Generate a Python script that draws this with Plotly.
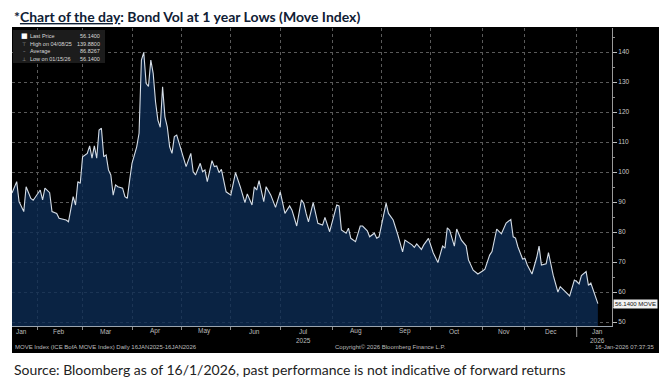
import plotly.graph_objects as go

# ---------------- data ----------------
dates = [
    "2025-01-16", "2025-01-21", "2025-01-22", "2025-01-24", "2025-01-27", "2025-01-29", "2025-01-30",
    "2025-02-04", "2025-02-05", "2025-02-06", "2025-02-10", "2025-02-11", "2025-02-13", "2025-02-14",
    "2025-02-20", "2025-02-21", "2025-02-25", "2025-02-26", "2025-02-27", "2025-02-28",
    "2025-03-03", "2025-03-05", "2025-03-06", "2025-03-07", "2025-03-10", "2025-03-11", "2025-03-12",
    "2025-03-13", "2025-03-14", "2025-03-17", "2025-03-18", "2025-03-19", "2025-03-20", "2025-03-21",
    "2025-03-24", "2025-03-26", "2025-03-27", "2025-03-28", "2025-03-31",
    "2025-04-01", "2025-04-03", "2025-04-04", "2025-04-07", "2025-04-08", "2025-04-09", "2025-04-10",
    "2025-04-11", "2025-04-14", "2025-04-15", "2025-04-16", "2025-04-17", "2025-04-21", "2025-04-22",
    "2025-04-23", "2025-04-24", "2025-04-25", "2025-04-28", "2025-04-29",
    "2025-05-05", "2025-05-07", "2025-05-08", "2025-05-09", "2025-05-13", "2025-05-14", "2025-05-15",
    "2025-05-16", "2025-05-20", "2025-05-21", "2025-05-22", "2025-05-23", "2025-05-27", "2025-05-29",
    "2025-06-02", "2025-06-04", "2025-06-06", "2025-06-10", "2025-06-11", "2025-06-13", "2025-06-16",
    "2025-06-17", "2025-06-18", "2025-06-20", "2025-06-23", "2025-06-25", "2025-06-27",
    "2025-07-01", "2025-07-03", "2025-07-08", "2025-07-09", "2025-07-11", "2025-07-15", "2025-07-16",
    "2025-07-17", "2025-07-18", "2025-07-22", "2025-07-24", "2025-07-28", "2025-07-29", "2025-07-31",
    "2025-08-05", "2025-08-06", "2025-08-07", "2025-08-11", "2025-08-12", "2025-08-13", "2025-08-15",
    "2025-08-19", "2025-08-20", "2025-08-22", "2025-08-25", "2025-08-27", "2025-08-28", "2025-08-29",
    "2025-09-02", "2025-09-04", "2025-09-05", "2025-09-09", "2025-09-11", "2025-09-15", "2025-09-16",
    "2025-09-18", "2025-09-19", "2025-09-22", "2025-09-23", "2025-09-25", "2025-09-26", "2025-09-30",
    "2025-10-02", "2025-10-06", "2025-10-08", "2025-10-09", "2025-10-10", "2025-10-14", "2025-10-16",
    "2025-10-17", "2025-10-21", "2025-10-23", "2025-10-24", "2025-10-28", "2025-10-30",
    "2025-11-03", "2025-11-04", "2025-11-06", "2025-11-07", "2025-11-12", "2025-11-14", "2025-11-18",
    "2025-11-20", "2025-11-21", "2025-11-24", "2025-11-25", "2025-11-26", "2025-11-28",
    "2025-12-01", "2025-12-02", "2025-12-04", "2025-12-08", "2025-12-09", "2025-12-10", "2025-12-12",
    "2025-12-15", "2025-12-17", "2025-12-19", "2025-12-22", "2025-12-24", "2025-12-29", "2025-12-31",
    "2026-01-02", "2026-01-05", "2026-01-06", "2026-01-08", "2026-01-09", "2026-01-12", "2026-01-15",
]
values = [
    93.0, 96.8, 90.1, 86.8, 95.1, 91.2, 90.6,
    94.0, 90.7, 94.6, 93.1, 86.8, 86.2, 84.6,
    84.0, 83.4, 91.8, 89.0, 96.8, 96.2,
    105.1, 106.2, 108.7, 104.6, 108.7, 104.6, 114.0,
    114.6, 105.1, 105.7, 100.7, 99.0, 92.3, 95.7,
    95.1, 94.6, 91.8, 91.2, 97.3,
    102.9, 108.4, 112.9, 137.3, 139.88, 129.6, 128.5,
    137.3, 132.9, 123.4, 117.3, 114.9, 128.4, 118.4,
    115.0, 108.4, 106.2, 111.8, 112.3,
    101.8, 106.2, 100.1, 99.0, 102.9, 100.1, 100.7,
    96.8, 103.8, 101.8, 102.0, 99.8, 100.9, 93.4,
    92.3, 99.8, 95.1, 89.8, 92.7, 89.0, 95.1,
    94.0, 97.1, 90.1, 95.1, 92.3, 88.2,
    93.4, 86.2, 88.7, 87.3, 82.0, 90.7, 89.6,
    86.2, 83.4, 89.8, 82.9, 82.3, 84.9, 80.1,
    89.0, 88.7, 80.7, 79.6, 81.3, 77.9, 76.8,
    82.0, 82.0, 80.4, 78.4, 79.6, 77.9, 78.4,
    81.8, 89.6, 86.2, 84.0, 79.0, 73.4, 77.3,
    76.4, 75.7, 74.9, 76.0, 74.2, 75.7, 77.9,
    73.1, 69.8, 75.3, 74.6, 81.4, 80.6, 75.3,
    81.0, 77.3, 75.4, 70.7, 67.3, 66.0,
    67.0, 67.6, 72.3, 73.5, 81.0, 79.4, 83.0,
    84.2, 78.4, 78.0, 75.1, 72.7, 71.0,
    71.2, 69.0, 66.0, 71.5, 75.3, 69.0, 69.4,
    73.1, 65.6, 60.0, 61.8, 60.1, 58.7, 64.0,
    63.5, 62.7, 65.5, 66.8, 62.2, 63.0, 56.14,
]

holidays = ["2025-01-20", "2025-02-17", "2025-04-18", "2025-05-26", "2025-07-04",
            "2025-09-01", "2025-10-13", "2025-11-11", "2025-11-27", "2025-12-25",
            "2026-01-01", "2026-01-19"]

month_starts = ["2025-02-03", "2025-03-03", "2025-04-01", "2025-05-01", "2025-06-02",
                "2025-07-01", "2025-08-01", "2025-09-02", "2025-10-01", "2025-11-03",
                "2025-12-01", "2026-01-02"]
month_labels = ["Jan", "Feb", "Mar", "Apr", "May", "Jun", "Jul", "Aug", "Sep", "Oct",
                "Nov", "Dec", "Jan"]
month_label_dates = ["2025-01-23", "2025-02-14", "2025-03-17", "2025-04-15", "2025-05-15",
                     "2025-06-16", "2025-07-16", "2025-08-15", "2025-09-16", "2025-10-16",
                     "2025-11-17", "2025-12-16", "2026-01-15"]
year_labels = ["2025", "2026"]
year_label_dates = ["2025-07-16", "2026-01-15"]
y_ticks = [50, 60, 70, 80, 90, 100, 110, 120, 130, 140]

legend_labels = ["Last Price", "High on 04/08/25", "Average", "Low on 01/15/26"]
legend_values = ["56.1400", "139.8800", "86.8267", "56.1400"]
last_price = 56.14

title_text = "<b>*<u>Chart of the day</u>: Bond Vol at 1 year Lows (Move Index)</b>"
source_text = "Source: Bloomberg as of 16/1/2026, past performance is not indicative of forward returns"
footer_left = "MOVE Index (ICE BofA MOVE Index) Daily 16JAN2025-16JAN2026"
footer_mid = "Copyright\u00a9 2026 Bloomberg Finance L.P."
footer_right = "16-Jan-2026 07:37:35"

# ---------------- layout helpers (pixel -> paper) ----------------
L, R, T, B = 12, 50, 28, 59
W, H = 662, 385
PW, PH = W - L - R, H - T - B


def px_x(px):
    return (px - L) / PW


def px_y(py):
    return (H - B - py) / PH


SMALL = "Liberation Sans"

fig = go.Figure()
fig.add_trace(go.Scatter(
    x=dates, y=values, mode="lines",
    line=dict(color="#d5dde6", width=1.1),
    fill="tozeroy", fillcolor="rgba(12,44,84,0.80)",
    hoverinfo="skip", showlegend=False,
))

grid_c = "#5a5a5a"
fig.update_xaxes(
    type="date", range=["2025-01-16", "2026-01-26"],
    rangebreaks=[dict(bounds=["sat", "mon"]), dict(values=holidays)],
    tickmode="array", tickvals=month_starts, ticktext=[""] * len(month_starts),
    ticks="outside", ticklen=3, tickcolor="#8a8a8a",
    showgrid=True, gridcolor=grid_c, griddash="dot", gridwidth=1,
    showline=True, linecolor="#9aa4ae", linewidth=1, zeroline=False,
)
fig.update_yaxes(
    side="right", range=[48.67, 148],
    tickmode="array", tickvals=y_ticks,
    ticks="outside", ticklen=4, tickcolor="#bdbdbd",
    tickfont=dict(size=6.5, color="#c8c8c8", family=SMALL),
    minor=dict(tickmode="linear", tick0=45, dtick=5, ticks="outside", ticklen=2,
               tickcolor="#8a8a8a", showgrid=False),
    showgrid=True, gridcolor=grid_c, griddash="dot", gridwidth=1,
    showline=True, linecolor="#9a9a9a", linewidth=1, zeroline=False,
)

shapes = [
    # black Bloomberg panel
    dict(type="rect", xref="paper", yref="paper", layer="below",
         x0=px_x(12), x1=px_x(659), y0=px_y(353), y1=px_y(27),
         fillcolor="#000000", line=dict(width=0)),
    # legend box
    dict(type="rect", xref="paper", yref="paper", layer="above",
         x0=px_x(13), x1=px_x(105), y0=px_y(63), y1=px_y(30),
         fillcolor="#1c1c1c", line=dict(width=0)),
    # year separator tick
    dict(type="line", xref="x", yref="paper", x0=month_starts[-1], x1=month_starts[-1],
         y0=px_y(328), y1=px_y(337), line=dict(color="#9a9a9a", width=1)),
]

ann = []
ann.append(dict(text=title_text, xref="paper", yref="paper", x=px_x(12), y=px_y(16),
                xanchor="left", yanchor="middle", showarrow=False,
                font=dict(family="Lato", size=14, color="#0f2035")))
ann.append(dict(text=source_text, xref="paper", yref="paper", x=px_x(12), y=px_y(369),
                xanchor="left", yanchor="middle", showarrow=False,
                font=dict(family="Lato", size=14, color="#222222")))

for lab, d in zip(month_labels, month_label_dates):
    ann.append(dict(text=lab, xref="x", yref="paper", x=d, y=px_y(331),
                    xanchor="center", yanchor="middle", showarrow=False,
                    font=dict(family=SMALL, size=6.5, color="#bdbdbd")))
for lab, d in zip(year_labels, year_label_dates):
    ann.append(dict(text=lab, xref="x", yref="paper", x=d, y=px_y(340),
                    xanchor="center", yanchor="middle", showarrow=False,
                    font=dict(family=SMALL, size=6.5, color="#bdbdbd")))

ann.append(dict(text=footer_left, xref="paper", yref="paper", x=px_x(13), y=px_y(347),
                xanchor="left", yanchor="middle", showarrow=False,
                font=dict(family=SMALL, size=6, color="#bdbdbd")))
ann.append(dict(text=footer_mid, xref="paper", yref="paper", x=px_x(333), y=px_y(347),
                xanchor="left", yanchor="middle", showarrow=False,
                font=dict(family=SMALL, size=6, color="#bdbdbd")))
ann.append(dict(text=footer_right, xref="paper", yref="paper", x=px_x(656), y=px_y(347),
                xanchor="right", yanchor="middle", showarrow=False,
                font=dict(family=SMALL, size=6, color="#bdbdbd")))

# last price tag
ann.append(dict(text=f"{last_price:.4f} MOVE", xref="paper", yref="y", x=px_x(613), y=last_price,
                xanchor="left", yanchor="middle", showarrow=False, bgcolor="#f2f2f2",
                borderpad=1, font=dict(family=SMALL, size=6, color="#111111")))

# legend rows
row_y = [36, 43.5, 51, 58.5]
icons = ["\u25a0", "\u22a4", "\u2013", "\u22a5"]
icon_col = ["#ffffff", "#aaaaaa", "#aaaaaa", "#aaaaaa"]
for i, (lab, val) in enumerate(zip(legend_labels, legend_values)):
    ann.append(dict(text=icons[i], xref="paper", yref="paper", x=px_x(24), y=px_y(row_y[i]),
                    xanchor="center", yanchor="middle", showarrow=False,
                    font=dict(family="DejaVu Sans", size=7 if i == 0 else 5, color=icon_col[i])))
    ann.append(dict(text=lab, xref="paper", yref="paper", x=px_x(28), y=px_y(row_y[i]),
                    xanchor="left", yanchor="middle", showarrow=False,
                    font=dict(family=SMALL, size=5.5, color="#d8d8d8")))
    ann.append(dict(text=val, xref="paper", yref="paper", x=px_x(102), y=px_y(row_y[i]),
                    xanchor="right", yanchor="middle", showarrow=False,
                    font=dict(family=SMALL, size=5.5, color="#d8d8d8")))

fig.update_layout(
    width=W, height=H,
    margin=dict(l=L, r=R, t=T, b=B, pad=0),
    paper_bgcolor="#ffffff", plot_bgcolor="#000000",
    shapes=shapes, annotations=ann, showlegend=False,
)

fig.write_html(
    "out.html",
    config={"displayModeBar": False},
    post_script="document.body.style.margin='0px';document.body.style.overflow='hidden';",
)
